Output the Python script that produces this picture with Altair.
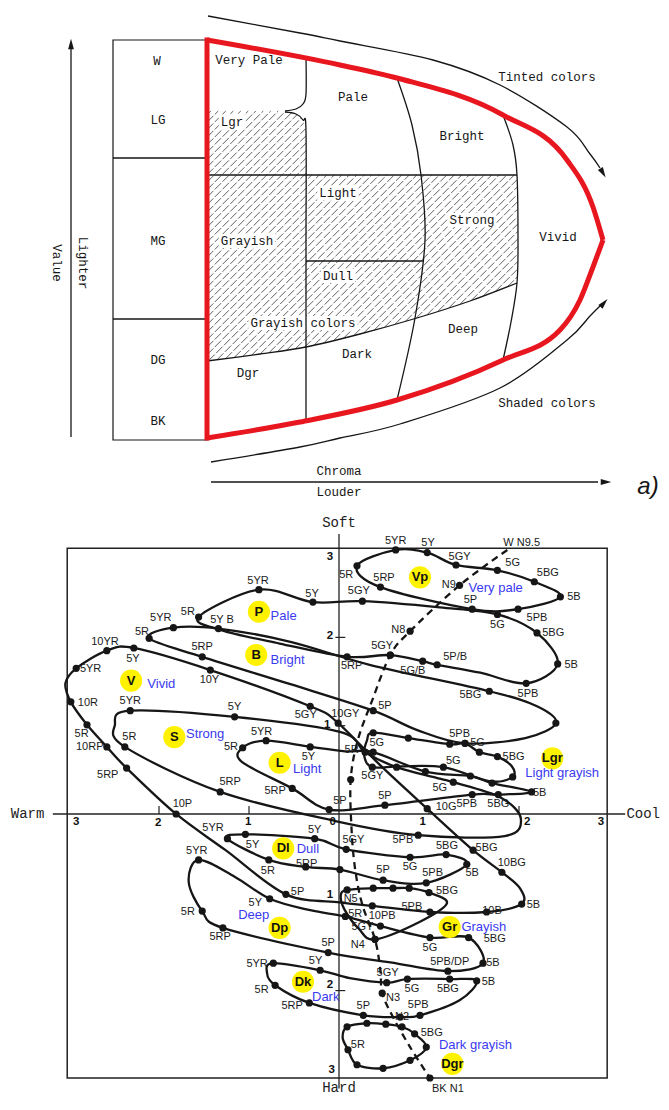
import altair as alt
import pandas as pd

W, H_TOP, H_BOT = 653, 492, 596
RED = "#e8171f"
INK = "#161616"
MONO = "Liberation Mono"
SANS = "Liberation Sans"
BLUE = "#3a3af0"
YELLOW = "#fff200"

# ============ a) tone diagram (diagram coordinates read from the picture) ============
red_top_edge = [(207, 40), (340, 65), (397, 78), (503, 115), (567, 160), (593, 207), (603, 240)]
red_bottom_edge = [(207, 438), (300, 422), (397, 400), (503, 360), (560, 330), (580, 300), (593, 267), (603, 240)]
red_left_edge = [(207, 40, 438)]

boundary_lines = {
    "vp_edge": [(306, 58), (306, 94), (303, 104), (296, 109), (285, 111)],
    "lgr_edge": [(285, 112), (296, 114), (303, 120), (306, 131), (306, 250), (306, 420)],
    "light_top": [(207, 175), (517, 175)],
    "pale_bright": [(397, 78), (412, 125), (421, 175), (425, 240), (415, 318), (397, 400)],
    "bright_vivid": [(503, 115), (513, 145), (517, 175), (518, 240), (517, 283), (511, 322), (503, 360)],
    "light_dull": [(306, 261), (423, 261)],
    "grayish_edge": [(207, 361), (260, 354), (306, 347), (360, 334), (417, 318), (470, 301), (517, 283)],
    "value_axis": [(71, 48), (71, 437)],
    "tinted_arrow": [(208, 16), (300, 33), (340, 41), (433, 60), (500, 85), (567, 127), (590, 154), (600, 168)],
    "shaded_arrow": [(211, 462), (300, 447), (340, 438), (400, 424), (500, 388), (567, 340), (590, 316), (600, 306)],
    "chroma_arrow": [(211, 482), (598, 482)],
    "col_line_1": [(113, 158), (207, 158)],
    "col_line_2": [(113, 319), (207, 319)],
}
gray_column = [(113, 40, 207, 440)]
arrow_heads = [(71, 44, 0), (603, 173, 150), (604, 303, 42), (606, 482, 90)]
hatch_region = [(207, 111), (283, 111), (296, 114), (303, 120), (306, 132), (306, 175), (517, 175),
                (518, 240), (517, 283), (470, 301), (417, 318), (360, 334), (306, 347), (260, 354), (207, 361)]

diagram_text = [
    ("W", 157, 61), ("LG", 158, 120), ("MG", 158, 241), ("DG", 158, 360), ("BK", 158, 421),
    ("Very Pale", 249, 60), ("Pale", 353, 97), ("Bright", 462, 136), ("Tinted colors", 547, 77),
    ("Lgr", 232, 122), ("Light", 338, 193), ("Strong", 472, 220), ("Vivid", 558, 237),
    ("Grayish", 247, 241), ("Dull", 338, 276), ("Grayish colors", 303, 323), ("Deep", 463, 329),
    ("Dark", 357, 354), ("Dgr", 248, 373), ("Shaded colors", 547, 403), ("Chroma", 339, 471),
    ("Louder", 339, 492),
]
hatched_labels = ["Lgr", "Light", "Strong", "Grayish", "Dull", "Grayish colors"]
diagram_vtext = [("Value", 57, 263), ("Lighter", 83, 263)]

# ============ b) hue & tone image scale (warm-cool / soft-hard units) ============
tone_loops = {
    "Vp": [(0.20, 2.81, 1), (0.63, 2.99, 1), (0.98, 2.96, 1), (1.30, 2.82, 1), (1.76, 2.76, 1), (2.17, 2.63, 1),
           (2.46, 2.46, 1), (1.99, 2.32, 1), (1.48, 2.32, 1), (0.46, 2.57, 1)],
    "P": [(-1.56, 2.23, 1), (-0.89, 2.54, 1), (-0.29, 2.40, 1), (0.26, 2.41, 1), (1.12, 2.34, 0), (1.76, 2.26, 1),
          (2.20, 2.05, 1), (2.43, 1.70, 1), (2.08, 1.48, 1), (1.57, 1.60, 0), (1.09, 1.69, 1), (0.93, 1.73, 1),
          (0.57, 1.80, 1), (0.09, 1.78, 1), (-0.66, 1.93, 0), (-1.30, 2.08, 0)],
    "B": [(-2.11, 1.99, 1), (-1.84, 2.11, 1), (-1.34, 2.10, 1), (-0.54, 1.95, 0), (0.34, 1.69, 0), (1.67, 1.39, 1),
          (2.20, 1.22, 0), (2.41, 1.03, 1), (2.07, 0.86, 0), (1.40, 0.80, 1), (0.87, 0.95, 0), (0.38, 1.17, 1),
          (-0.54, 1.47, 0), (-1.52, 1.78, 1)],
    "V": [(-2.92, 1.65, 1), (-2.58, 1.85, 1), (-2.28, 1.88, 1), (-1.43, 1.63, 1), (-0.32, 1.22, 1), (-0.01, 1.03, 1),
          (0.46, 0.55, 0), (0.98, 0.06, 1), (1.49, -0.41, 1), (1.81, -0.66, 1), (2.01, -0.84, 0), (2.03, -1.02, 1),
          (1.64, -1.11, 1), (1.01, -1.11, 1), (0.37, -1.04, 1), (0.01, -1.00, 0), (-0.59, -0.91, 1),
          (-1.26, -0.41, 0), (-1.81, 0.00, 1), (-2.36, 0.52, 1), (-2.58, 0.76, 1), (-2.80, 1.01, 1),
          (-2.98, 1.27, 1), (-3.04, 1.48, 0)],
    "S": [(-2.32, 1.17, 1), (-1.16, 1.10, 1), (0.01, 0.93, 0), (0.29, 0.70, 1), (0.64, 0.53, 1), (1.12, 0.40, 0),
          (1.27, 0.36, 1), (1.79, 0.19, 0), (2.02, -0.05, 0), (1.84, -0.25, 0), (0.88, -0.24, 1), (-0.04, -0.08, 0),
          (-1.32, 0.25, 1), (-2.38, 0.76, 1), (-2.49, 1.01, 0)],
    "L": [(-1.07, 0.75, 1), (-0.81, 0.83, 1), (-0.32, 0.76, 1), (0.07, 0.71, 0), (0.38, 0.70, 1), (0.96, 0.48, 1),
          (1.46, 0.43, 1), (1.70, 0.35, 1), (2.14, 0.25, 1), (1.77, 0.22, 1), (1.48, 0.22, 1), (0.51, 0.10, 1),
          (-0.11, 0.05, 1), (-0.52, 0.29, 1), (-1.08, 0.59, 0)],
    "Lgr": [(0.31, 0.83, 0), (0.38, 0.92, 1), (0.77, 0.86, 1), (1.23, 0.79, 1), (1.40, 0.80, 1), (1.56, 0.70, 1),
            (1.76, 0.65, 1), (1.92, 0.54, 0), (1.93, 0.42, 1), (1.68, 0.37, 0), (1.16, 0.53, 1), (0.68, 0.54, 0),
            (0.37, 0.53, 1), (0.28, 0.66, 0)],
    "Dl": [(-1.24, -0.28, 1), (-1.04, -0.23, 1), (-0.27, -0.28, 1), (0.08, -0.40, 1), (0.79, -0.49, 1),
           (1.19, -0.46, 1), (1.42, -0.57, 1), (0.97, -0.78, 1), (0.49, -0.75, 1), (0.01, -0.63, 1),
           (-0.37, -0.60, 1), (-0.78, -0.52, 1)],
    "Dp": [(-1.56, -0.52, 1), (-1.16, -0.71, 0), (-0.77, -0.96, 1), (-0.32, -1.09, 0), (0.07, -1.16, 1),
           (0.46, -1.27, 1), (1.01, -1.40, 1), (1.44, -1.40, 1), (1.60, -1.69, 1), (1.21, -1.78, 1),
           (0.57, -1.68, 0), (-0.12, -1.57, 1), (-1.29, -1.29, 1), (-1.52, -1.10, 1), (-1.67, -0.77, 0)],
    "Gr": [(0.02, -0.92, 0), (0.09, -0.86, 1), (0.38, -0.84, 1), (0.60, -0.84, 1), (0.78, -0.84, 1),
           (1.00, -0.89, 1), (1.20, -1.01, 0), (0.90, -1.22, 0), (0.40, -1.42, 1), (0.22, -1.30, 0),
           (0.06, -1.08, 0)],
    "Dk": [(-0.73, -1.69, 1), (-0.21, -1.77, 1), (0.12, -1.86, 0), (0.53, -1.91, 1), (0.76, -1.87, 1),
           (1.23, -1.87, 1), (1.53, -1.89, 1), (1.34, -2.11, 0), (0.90, -2.28, 1), (0.68, -2.30, 1),
           (0.27, -2.28, 1), (-0.33, -2.14, 1), (-0.71, -1.94, 1), (-0.80, -1.80, 0)],
    "Dgr": [(0.09, -2.41, 1), (0.31, -2.37, 1), (0.52, -2.38, 1), (0.70, -2.41, 1), (0.84, -2.49, 1),
            (0.97, -2.64, 1), (0.79, -2.79, 1), (0.49, -2.88, 1), (0.20, -2.84, 1), (0.10, -2.67, 1),
            (0.04, -2.53, 0)],
}
neutral_axis = [(1.87, 2.99, 0), (1.34, 2.59, 1), (0.79, 2.07, 1), (0.57, 1.80, 1), (0.37, 1.29, 0),
                (0.21, 0.84, 0), (0.13, 0.39, 1), (0.14, -0.18, 0), (0.18, -0.63, 0), (0.26, -1.03, 0),
                (0.40, -1.42, 1), (0.46, -1.77, 0), (0.48, -2.03, 1), (0.60, -2.30, 0), (0.79, -2.64, 0),
                (1.01, -2.99, 1)]

hue_labels = [
    ("5YR", 0.63, 3.09), ("5Y", 0.99, 3.07), ("5GY", 1.34, 2.91), ("5G", 1.93, 2.84), ("5BG", 2.32, 2.73),
    ("5B", 2.61, 2.46), ("5PB", 2.20, 2.22), ("5P", 1.46, 2.42), ("5RP", 0.50, 2.67), ("5R", 0.08, 2.71),
    ("N9", 1.22, 2.59), ("W N9.5", 2.03, 3.07),
    ("5YR", -0.90, 2.64), ("5Y", -0.30, 2.49), ("5GY", 0.22, 2.53), ("5R", -1.68, 2.29), ("5G", 1.76, 2.14),
    ("5BG", 2.38, 2.05), ("5B", 2.58, 1.69), ("5PB", 2.10, 1.36), ("5BG", 1.46, 1.35), ("5RP", 0.14, 1.68),
    ("5GY", 0.48, 1.90), ("5G/B", 0.82, 1.62), ("5P/B", 1.29, 1.78), ("N8", 0.66, 2.08),
    ("5R", -2.19, 2.06), ("5YR", -1.98, 2.22), ("5Y B", -1.30, 2.20), ("5RP", -1.52, 1.89),
    ("5YR", -2.76, 1.64), ("10YR", -2.60, 1.95), ("5Y", -2.29, 1.76), ("10Y", -1.44, 1.52), ("5GY", -0.37, 1.12),
    ("10GY", 0.07, 1.13), ("10R", -2.79, 1.26), ("5R", -2.86, 0.91), ("10RP", -2.77, 0.76), ("5RP", -2.57, 0.44),
    ("10P", -1.74, 0.11), ("10G", 1.19, 0.08), ("5BG", 1.64, -0.39), ("10BG", 1.92, -0.55), ("5B", 2.16, -1.03),
    ("10B", 1.70, -1.10), ("5PB", 0.81, -1.05), ("10PB", 0.48, -1.16), ("5P", -0.46, -0.88),
    ("5YR", -2.32, 1.28), ("5Y", -1.16, 1.21), ("5R", -2.33, 0.87), ("5RP", -1.21, 0.36), ("5R", 0.14, 0.72),
    ("5PB", 0.71, -0.29),
    ("5R", -1.20, 0.76), ("5YR", -0.86, 0.93), ("5Y", -0.34, 0.65), ("5RP", -0.71, 0.26), ("5P", 0.01, 0.15),
    ("5P", 0.51, 1.22), ("5PB", 1.34, 0.91), ("5G", 1.54, 0.80), ("5BG", 1.94, 0.65), ("5G", 0.42, 0.80),
    ("5GY", 0.37, 0.43), ("5G", 1.27, 0.60), ("5G", 1.12, 0.29), ("5B", 2.23, 0.24), ("5PB", 1.42, 0.11),
    ("5BG", 1.77, 0.11), ("5P", 0.51, 0.20),
    ("5YR", -1.40, -0.16), ("5Y", -0.96, -0.35), ("5Y", -0.27, -0.18), ("5R", -0.79, -0.65), ("5RP", -0.36, -0.57),
    ("5GY", 0.16, -0.29), ("5P", 0.49, -0.63), ("5G", 0.79, -0.60), ("5PB", 1.04, -0.67), ("5BG", 1.20, -0.36),
    ("5B", 1.48, -0.67),
    ("5BG", 1.20, -0.87), ("N5", 0.13, -0.96), ("5R", 0.18, -1.13), ("5GY", 0.26, -1.28), ("N4", 0.21, -1.48),
    ("5YR", -1.58, -0.42), ("5R", -1.68, -1.11), ("5RP", -1.32, -1.39), ("5Y", -0.93, -1.01), ("5P", -0.12, -1.46),
    ("5G", 1.01, -1.52), ("5BG", 1.73, -1.42), ("5B", 1.71, -1.69), ("5PB/DP", 1.23, -1.68),
    ("5YR", -0.91, -1.70), ("5Y", -0.26, -1.66), ("5R", -0.86, -1.99), ("5RP", -0.52, -2.17), ("5P", 0.27, -2.17),
    ("5GY", 0.54, -1.80), ("5G", 0.81, -1.98), ("5BG", 1.21, -1.98), ("5B", 1.66, -1.90), ("5PB", 0.88, -2.16),
    ("N3", 0.60, -2.08), ("N2", 0.70, -2.30),
    ("5R", 0.21, -2.62), ("5BG", 1.03, -2.48), ("BK N1", 1.21, -3.11),
]

tone_marks = [("Vp", 0.90, 2.68), ("P", -0.89, 2.29), ("B", -0.92, 1.80), ("V", -2.31, 1.51), ("S", -1.83, 0.87),
              ("L", -0.66, 0.58), ("Lgr", 2.37, 0.63), ("Dl", -0.62, -0.39), ("Gr", 1.23, -1.28),
              ("Dp", -0.66, -1.29), ("Dk", -0.40, -1.90), ("Dgr", 1.26, -2.83)]
tone_names = [("Very pale", 1.44, 2.56), ("Pale", -0.76, 2.24), ("Bright", -0.76, 1.74), ("Vivid", -2.13, 1.47),
              ("Strong", -1.70, 0.91), ("Light", -0.51, 0.51), ("Light grayish", 2.07, 0.46), ("Dull", -0.47, -0.40),
              ("Grayish", 1.36, -1.28), ("Deep", -1.12, -1.14), ("Dark", -0.30, -2.07), ("Dark grayish", 1.11, -2.62)]

x_ticks = [-2, -1, 1, 2]
y_ticks = [-2, -1, 1, 2]
x_tick_labels = [("3", -2.92, -0.09), ("2", -2.01, -0.10), ("1", -1.01, -0.09), ("0", -0.07, -0.09),
                 ("1", 0.93, -0.09), ("2", 2.09, -0.09), ("3", 2.91, -0.09)]
y_tick_labels = [("3", -0.10, 2.91), ("2", -0.10, 2.02), ("1", -0.13, 1.01), ("1", -0.10, -0.92),
                 ("2", -0.10, -1.94), ("3", -0.08, -2.90)]
frame = [(-3.02, 3.01, 2.98, -2.99)]
axis_lines = [(-3.18, 0.0, 3.18, 0.0), (0.0, 3.17, 0.0, -3.11)]

# ------------------------------------------------------------------ helpers
def path_df(paths):
    rows = []
    for k, pts in paths.items():
        for i, p in enumerate(pts):
            rows.append(dict(id=k, o=i, x=p[0], y=p[1]))
    return pd.DataFrame(rows)


def hatch_df(poly, step=7.5):
    sums = [x + y for x, y in poly]
    rows = []
    c = min(sums) + step / 2
    n = len(poly)
    while c < max(sums):
        pts = []
        for i in range(n):
            (x1, y1), (x2, y2) = poly[i], poly[(i + 1) % n]
            f1, f2 = x1 + y1 - c, x2 + y2 - c
            if (f1 < 0) != (f2 < 0):
                t = f1 / (f1 - f2)
                pts.append((x1 + t * (x2 - x1), y1 + t * (y2 - y1)))
        pts.sort()
        for j in range(0, len(pts) - 1, 2):
            rows.append(dict(x=pts[j][0], y=pts[j][1], x2=pts[j + 1][0], y2=pts[j + 1][1]))
        c += step
    return pd.DataFrame(rows)


def text_df(items):
    return pd.DataFrame([dict(t=t, x=x, y=y) for t, x, y in items])


# ------------------------------------------------------------------ top panel
xs_t = alt.Scale(domain=[8, 661], nice=False, zero=False)
ys_t = alt.Scale(domain=[8, 500], nice=False, zero=False, reverse=True)
X_t = alt.X("x:Q", scale=xs_t, axis=None)
Y_t = alt.Y("y:Q", scale=ys_t, axis=None)

hatch = alt.Chart(hatch_df(hatch_region)).mark_rule(color="#2a2a2a", strokeWidth=0.75, strokeDash=[9, 2]).encode(
    x=X_t, y=Y_t, x2="x2:Q", y2="y2:Q")
# white patches that keep the labels inside the hatched area readable
patch_rows = [dict(x=x - 3.75 * len(t) - 2, x2=x + 3.75 * len(t) + 2, y=y - 7, y2=y + 7)
              for t, x, y in diagram_text if t in hatched_labels]
patches = alt.Chart(pd.DataFrame(patch_rows)).mark_rect(color="white", opacity=1).encode(
    x=X_t, y=Y_t, x2="x2:Q", y2="y2:Q")
col_rect = alt.Chart(pd.DataFrame([dict(x=a, y=b, x2=c, y2=d) for a, b, c, d in gray_column])).mark_rect(
    fillOpacity=0, stroke=INK, strokeWidth=1.2).encode(x=X_t, y=Y_t, x2="x2:Q", y2="y2:Q")
blines = alt.Chart(path_df(boundary_lines)).mark_line(color=INK, strokeWidth=1.3, interpolate="cardinal").encode(
    x=X_t, y=Y_t, detail="id:N", order="o:Q")
red_curves = alt.Chart(path_df({"top": red_top_edge, "bottom": red_bottom_edge})).mark_line(
    color=RED, strokeWidth=5, interpolate="monotone").encode(x=X_t, y=Y_t, detail="id:N", order="o:Q")
red_left = alt.Chart(pd.DataFrame([dict(x=a, y=b, y2=c) for a, b, c in red_left_edge])).mark_rule(
    color=RED, strokeWidth=5, strokeCap="square").encode(x=X_t, y=Y_t, y2="y2:Q")
heads = alt.Chart(pd.DataFrame([dict(x=a, y=b, a=c) for a, b, c in arrow_heads])).mark_point(
    shape="M0,-1L0.55,1L-0.55,1Z", filled=True, color=INK, size=110, opacity=1).encode(
    x=X_t, y=Y_t, angle=alt.Angle("a:Q", scale=None))
dtext = alt.Chart(text_df(diagram_text)).mark_text(font=MONO, fontSize=12.5, color=INK).encode(
    x=X_t, y=Y_t, text="t:N")
vtext = alt.Chart(text_df(diagram_vtext)).mark_text(font=MONO, fontSize=12.5, color=INK, angle=90).encode(
    x=X_t, y=Y_t, text="t:N")
a_label = alt.Chart(text_df([("a)", 648, 499)])).mark_text(
    font=SANS, fontSize=24, fontStyle="italic", color=INK, baseline="bottom").encode(x=X_t, y=Y_t, text="t:N")

top = alt.layer(hatch, patches, col_rect, blines, red_curves, red_left, heads, dtext, vtext, a_label).properties(
    width=W, height=H_TOP)

# ------------------------------------------------------------------ bottom panel
xs_b = alt.Scale(domain=[-3.678, 3.578], nice=False, zero=False)
ys_b = alt.Scale(domain=[-3.194, 3.556], nice=False, zero=False)
X_b = alt.X("x:Q", scale=xs_b, axis=None)
Y_b = alt.Y("y:Q", scale=ys_b, axis=None)

frame_l = alt.Chart(pd.DataFrame([dict(x=a, y=b, x2=c, y2=d) for a, b, c, d in frame])).mark_rect(
    fillOpacity=0, stroke="#222", strokeWidth=1.5).encode(x=X_b, y=Y_b, x2="x2:Q", y2="y2:Q")
axes_l = alt.Chart(pd.DataFrame([dict(x=a, y=b, x2=c, y2=d) for a, b, c, d in axis_lines])).mark_rule(
    color="#222", strokeWidth=1.3).encode(x=X_b, y=Y_b, x2="x2:Q", y2="y2:Q")
tick_rows = [dict(x=t, y=0.0, x2=t, y2=0.09) for t in x_ticks] + [dict(x=-0.04, y=t, x2=0.07, y2=t) for t in y_ticks]
ticks_l = alt.Chart(pd.DataFrame(tick_rows)).mark_rule(color="#222", strokeWidth=1.2).encode(
    x=X_b, y=Y_b, x2="x2:Q", y2="y2:Q")

loop_df = pd.DataFrame([dict(loop=k, o=i, x=x, y=y) for k, pts in tone_loops.items() for i, (x, y, d) in enumerate(pts)])
loops_l = alt.Chart(loop_df).mark_line(color=INK, strokeWidth=2.3, interpolate="cardinal-closed").encode(
    x=X_b, y=Y_b, detail="loop:N", order="o:Q")
neutral_df = pd.DataFrame([dict(o=i, x=x, y=y) for i, (x, y, d) in enumerate(neutral_axis)])
neutral_l = alt.Chart(neutral_df).mark_line(color=INK, strokeWidth=2.3, strokeDash=[7, 5], interpolate="cardinal").encode(
    x=X_b, y=Y_b, order="o:Q")
dot_df = pd.DataFrame([dict(x=x, y=y) for pts in list(tone_loops.values()) + [neutral_axis] for (x, y, d) in pts if d])
dots_l = alt.Chart(dot_df).mark_circle(color=INK, size=52, opacity=1).encode(x=X_b, y=Y_b)
yellow_l = alt.Chart(text_df(tone_marks)).mark_circle(color=YELLOW, size=490, opacity=1).encode(x=X_b, y=Y_b)
hue_l = alt.Chart(text_df(hue_labels)).mark_text(font=SANS, fontSize=11, color="#1a1a1a").encode(
    x=X_b, y=Y_b, text="t:N")
mark_l = alt.Chart(text_df(tone_marks)).mark_text(font=SANS, fontSize=13, fontWeight="bold", color="#111").encode(
    x=X_b, y=Y_b, text="t:N")
name_l = alt.Chart(text_df(tone_names)).mark_text(font=SANS, fontSize=13, color=BLUE, align="left").encode(
    x=X_b, y=Y_b, text="t:N")
tl_l = alt.Chart(text_df(x_tick_labels + y_tick_labels)).mark_text(
    font=SANS, fontSize=11.5, fontWeight="bold", color="#111").encode(x=X_b, y=Y_b, text="t:N")
soft_l = alt.Chart(text_df([("Soft", 0.0, 3.30), ("Warm", -3.46, 0.0)])).mark_text(
    font=MONO, fontSize=14, color="#222").encode(x=X_b, y=Y_b, text="t:N")
cool_l = alt.Chart(text_df([("Cool", 3.567, 0.0)])).mark_text(
    font=MONO, fontSize=14, color="#222", align="right").encode(x=X_b, y=Y_b, text="t:N")
hard_l = alt.Chart(text_df([("Hard", 0.0, -3.185)])).mark_text(
    font=MONO, fontSize=14, color="#222", baseline="bottom").encode(x=X_b, y=Y_b, text="t:N")

bottom = alt.layer(frame_l, axes_l, ticks_l, loops_l, neutral_l, dots_l, yellow_l, hue_l, mark_l, name_l,
                   tl_l, soft_l, cool_l, hard_l).properties(width=W, height=H_BOT)

chart = alt.vconcat(top, bottom, spacing=0).properties(padding=0).configure_view(strokeWidth=0)
chart.save("out.html", embed_options={"renderer": "svg", "actions": False})
